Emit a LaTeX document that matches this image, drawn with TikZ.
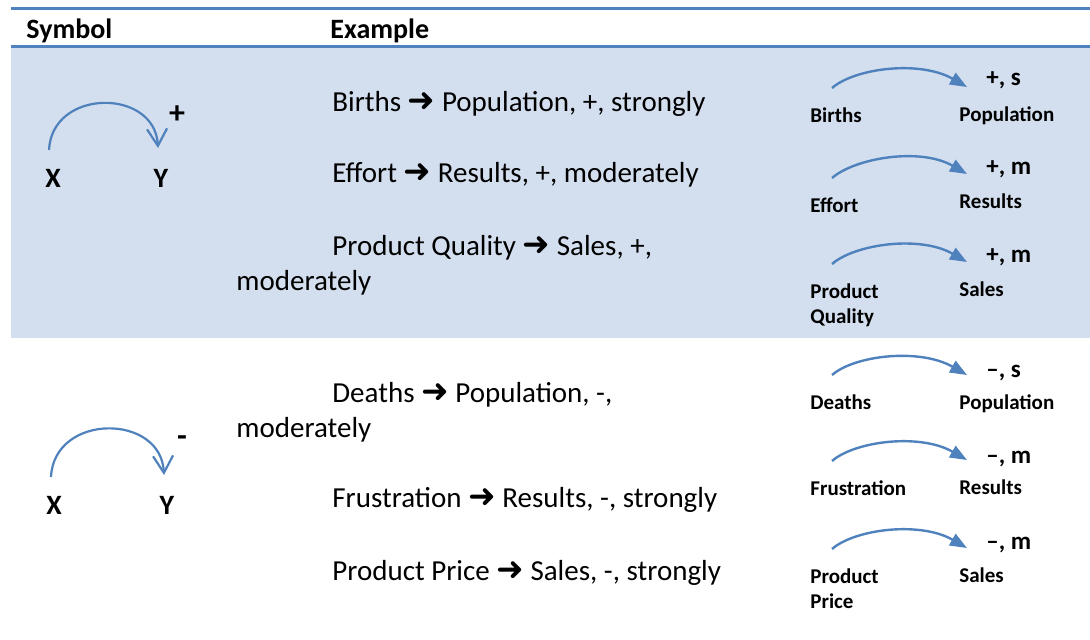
\documentclass[tikz,border=0pt]{standalone}
\usepackage{fontspec}
\setmainfont{Carlito}
\newfontfamily\arrfont{DejaVu Sans}
\usepackage{tikz}
\usetikzlibrary{arrows.meta}
\newcommand{\rarr}{{\arrfont\fontsize{16.5}{17}\selectfont ➜}}
\newcommand{\deuxlignes}[2]{\begin{tabular}[t]{@{}l@{}}#1\\#2\end{tabular}}
\definecolor{bleuligne}{RGB}{79,129,189}
\definecolor{bleufond}{RGB}{211,223,238}
\colorlet{colfleche}{bleuligne}
\tikzstyle{regle}=[line width=1.5pt,bleuligne]
\tikzstyle{titre}=[anchor=base west,inner sep=0pt,font=\fontsize{14}{17}\selectfont\bfseries]
\tikzstyle{exemple}=[anchor=base west,inner sep=0pt,font=\fontsize{14.5}{17}\selectfont]
\tikzstyle{lettre}=[inner sep=0pt,font=\fontsize{14}{16}\selectfont\bfseries]
\tikzstyle{nom}=[anchor=base west,inner sep=0pt,font=\fontsize{10.5}{12.5}\selectfont\bfseries]
\tikzstyle{signe}=[anchor=base west,inner sep=0pt,font=\fontsize{12.5}{15}\selectfont\bfseries]
\tikzstyle{boucle}=[line width=1.1pt,colfleche,-{Straight Barb[length=8.5pt,width=10pt,line width=1.1pt]}]
\tikzstyle{lien}=[line width=1.2pt,colfleche,-{Triangle[length=8.5pt,width=6.5pt]}]

\begin{document}
\begin{tikzpicture}[x=0.5pt,y=-0.5pt]
\useasboundingbox (0,0) rectangle (1090,639);

\fill[bleufond] (11,47) rectangle (1090,338);
\draw[regle] (11,8.5) -- (1090,8.5);
\draw[regle] (11,46.5) -- (1090,46.5);

\node[titre] (hsym) at (26,38) {Symbol};
\node[titre] (hex) at (330,38) {Example};

% symboles
\node[lettre] (xa) at (53,178) {X};
\node[lettre] (ya) at (161,178) {Y};
\node[lettre,font=\fontsize{16}{18}\selectfont\bfseries] (pa) at (177,115) {+};
\draw[boucle] ([shift={(-4,-28)}]xa.center) .. controls +(3,-62) and +(-3,-60) .. ([shift={(-3,-30)}]ya.center);

\node[lettre] (xb) at (54,505) {X};
\node[lettre] (yb) at (167,505) {Y};
\node[lettre,font=\fontsize{16}{18}\selectfont\bfseries] (mb) at (182,441) {-};
\draw[boucle] ([shift={(-3,-28)}]xb.center) .. controls +(3,-64) and +(-3,-62) .. ([shift={(-3,-30)}]yb.center);

% exemples
\node[exemple] (e1) at (332,111) {Births \rarr{} Population, +, strongly};
\node[exemple] (e2) at (332,182) {Effort \rarr{} Results, +, moderately};
\node[exemple] (e3) at (332,255) {Product Quality \rarr{} Sales, +,};
\node[exemple] (e3b) at (236,290) {moderately};
\node[exemple] (e4) at (332,402) {Deaths \rarr{} Population, -,};
\node[exemple] (e4b) at (236,437) {moderately};
\node[exemple] (e5) at (332,507) {Frustration \rarr{} Results, -, strongly};
\node[exemple] (e6) at (332,580) {Product Price \rarr{} Sales, -, strongly};

% petits graphes
\foreach \i/\src/\ys/\dst/\yd/\lab/\yl in {
  1/Births/122/Population/121/{+, s}/85,
  2/Effort/212/Results/208/{+, m}/174,
  3/{\deuxlignes{Product}{Quality}}/298/Sales/296/{+, m}/262,
  4/Deaths/409/Population/409/{--, s}/377,
  5/Frustration/495/Results/494/{--, m}/463,
  6/{\deuxlignes{Product}{Price}}/583/Sales/582/{--, m}/549}
{
\node[nom] (s\i) at (810,\ys) {\src};
\node[nom] (d\i) at (959,\yd) {\dst};
\node[signe] (l\i) at (986,\yl) {\lab};
\draw[lien] ([shift={(22,-34)}]s\i.base west) .. controls +(23,-20) and +(-47,-27) .. ([shift={(8,-34)}]d\i.base west);
}

\end{tikzpicture}
\end{document}
